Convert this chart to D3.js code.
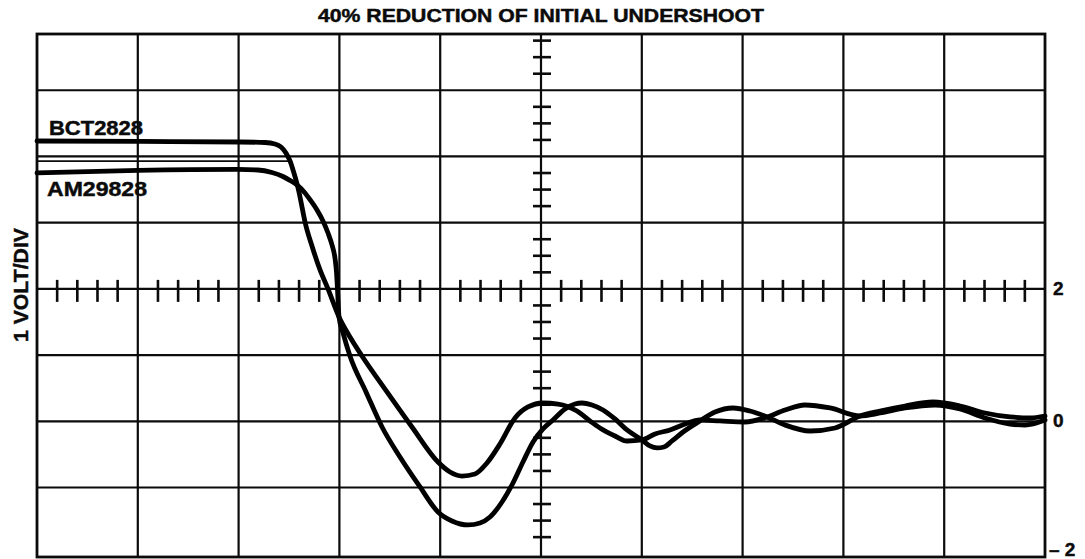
<!DOCTYPE html>
<html>
<head>
<meta charset="utf-8">
<script src="https://cdn.jsdelivr.net/npm/d3@7"></script>
<style>
  html, body { margin: 0; padding: 0; background: #fff; }
  svg { display: block; font-family: "Liberation Sans", Arial, Helvetica, sans-serif; font-weight: bold; }
  svg text { stroke: #0b0b0b; stroke-width: 0.45px; }
</style>
</head>
<body>
<svg id="chart" width="1085" height="559"></svg>
<script>
// ---- text ----
const titleText = "40% REDUCTION OF INITIAL UNDERSHOOT";
const yAxisLabel = "1 VOLT/DIV";
const seriesNames = ["BCT2828", "AM29828"];
const voltTickValues = [2, 0, -2];
const voltTickLabels = ["2", "0", "– 2"];

// ---- traces: time in horizontal divisions, amplitude in volts ----
const bctTime = [0, 1.022, 2.014, 2.262, 2.361, 2.421, 2.470, 2.510, 2.540, 2.569, 2.599, 2.629, 2.659,
  2.728, 2.808, 2.887, 2.996, 3.105, 3.224, 3.472, 3.720, 3.978, 4.097, 4.216, 4.345, 4.464, 4.593,
  4.742, 4.871, 5.020, 5.169, 5.357, 5.486, 5.585, 5.734, 5.853, 6.002, 6.131, 6.280, 6.429, 6.577,
  6.776, 7.024, 7.242, 7.421, 7.619, 7.867, 8.165, 8.363, 8.611, 8.909, 9.157, 9.405, 9.653, 9.802, 10];
const bctVolts = [4.234, 4.227, 4.219, 4.211, 4.189, 4.143, 4.053, 3.932, 3.796, 3.645, 3.464, 3.237, 3.011,
  2.648, 2.286, 1.999, 1.576, 1.273, 0.986, 0.444, -0.086, -0.615, -0.766, -0.827, -0.796, -0.630, -0.343,
  0.050, 0.216, 0.276, 0.261, 0.155, 0.005, -0.101, -0.222, -0.298, -0.282, -0.192, -0.131, -0.041, 0.020,
  0.005, -0.011, 0.065, 0.171, 0.246, 0.201, 0.080, 0.125, 0.201, 0.246, 0.186, 0.050, -0.041, -0.056, 0.020];

const amTime = [0, 1.002, 1.994, 2.192, 2.331, 2.440, 2.520, 2.579, 2.659, 2.718, 2.778, 2.837, 2.887,
  2.927, 2.956, 2.971, 2.981, 2.996, 3.036, 3.105, 3.264, 3.423, 3.601, 3.800, 3.978, 4.117, 4.276,
  4.395, 4.494, 4.613, 4.722, 4.821, 4.921, 5.020, 5.119, 5.238, 5.337, 5.407, 5.506, 5.615, 5.734,
  5.853, 6.002, 6.081, 6.151, 6.220, 6.300, 6.409, 6.577, 6.726, 6.905, 7.073, 7.242, 7.421, 7.669,
  7.917, 8.165, 8.363, 8.611, 8.889, 9.157, 9.405, 9.653, 9.851, 10];
const amVolts = [3.751, 3.789, 3.804, 3.796, 3.758, 3.698, 3.630, 3.570, 3.449, 3.328, 3.192, 3.026, 2.844,
  2.663, 2.467, 2.256, 1.999, 1.576, 1.334, 0.986, 0.444, -0.086, -0.539, -0.992, -1.370, -1.506, -1.566,
  -1.536, -1.446, -1.219, -0.932, -0.615, -0.312, -0.116, 0.020, 0.186, 0.261, 0.276, 0.246, 0.171, 0.035,
  -0.131, -0.282, -0.373, -0.403, -0.388, -0.297, -0.162, 0.005, 0.140, 0.201, 0.155, 0.065, -0.056, -0.147,
  -0.101, 0.080, 0.155, 0.231, 0.292, 0.231, 0.125, 0.065, 0.050, 0.080];

// faint baseline trace visible on the left of the screen
const refTime = [0, 2.51];
const refVolts = [3.93, 3.93];

// ---- layout ----
const svg = d3.select("#chart");
const x = d3.scaleLinear().domain([0, 10]).range([37, 1045]);
const y = d3.scaleLinear().domain([-2.05, 5.85]).range([557, 34]);
const ink = "#0b0b0b";

// graticule
const grid = svg.append("g").attr("stroke", ink).attr("stroke-width", 2.2);
grid.selectAll("line.v").data(d3.range(1, 10)).join("line")
  .attr("class", "v")
  .attr("x1", d => x(d)).attr("x2", d => x(d))
  .attr("y1", y(5.85)).attr("y2", y(-2.05));
grid.selectAll("line.h").data(d3.range(-1, 6)).join("line")
  .attr("class", "h")
  .attr("x1", x(0)).attr("x2", x(10))
  .attr("y1", d => y(d)).attr("y2", d => y(d));
svg.append("rect")
  .attr("x", x(0)).attr("y", y(5.85))
  .attr("width", x(10) - x(0)).attr("height", y(-2.05) - y(5.85))
  .attr("fill", "none").attr("stroke", ink).attr("stroke-width", 2.8);

// minor ticks on the centre horizontal axis (fifths of a division)
const hTicks = [];
d3.range(0, 10).forEach(i => d3.range(1, 5).forEach(k => hTicks.push(i + k / 5)));
grid.selectAll("line.ht").data(hTicks).join("line")
  .attr("class", "ht").attr("stroke-width", 2.6)
  .attr("x1", d => x(d)).attr("x2", d => x(d))
  .attr("y1", y(2) - 9).attr("y2", y(2) + 13);

// minor ticks on the centre vertical axis (quarters of a division)
const vTicks = [];
d3.range(-2, 6).forEach(j => d3.range(1, 4).forEach(k => { const v = j + k / 4; if (v < 5.85) vTicks.push(v); }));
grid.selectAll("line.vt").data(vTicks).join("line")
  .attr("class", "vt").attr("stroke-width", 2.6)
  .attr("x1", x(5) - 8).attr("x2", x(5) + 10)
  .attr("y1", d => y(d)).attr("y2", d => y(d));

// traces
const line = d3.line().x(d => x(d.t)).y(d => y(d.v)).curve(d3.curveMonotoneX);
const zipSeries = (ts, vs) => ts.map((t, i) => ({ t, v: vs[i] }));

svg.append("path")
  .datum(zipSeries(refTime, refVolts))
  .attr("d", line).attr("fill", "none").attr("stroke", ink).attr("stroke-width", 1.8);

[zipSeries(bctTime, bctVolts), zipSeries(amTime, amVolts)].forEach(s => {
  svg.append("path")
    .datum(s)
    .attr("d", line)
    .attr("fill", "none")
    .attr("stroke", "#000")
    .attr("stroke-width", 4.8)
    .attr("stroke-linejoin", "round")
    .attr("stroke-linecap", "round");
});

// labels
svg.append("text")
  .attr("x", 541).attr("y", 22)
  .attr("text-anchor", "middle").attr("font-size", 17.5)
  .attr("textLength", 446).attr("lengthAdjust", "spacingAndGlyphs")
  .attr("fill", ink).text(titleText);

svg.append("text")
  .attr("x", 49).attr("y", 135)
  .attr("font-size", 19.5).attr("textLength", 94).attr("lengthAdjust", "spacingAndGlyphs")
  .attr("fill", ink).text(seriesNames[0]);
svg.append("text")
  .attr("x", 47).attr("y", 196)
  .attr("font-size", 19.5).attr("textLength", 100).attr("lengthAdjust", "spacingAndGlyphs")
  .attr("fill", ink).text(seriesNames[1]);

svg.append("text")
  .attr("transform", "translate(28,285) rotate(-90)")
  .attr("text-anchor", "middle").attr("font-size", 20)
  .attr("textLength", 114).attr("lengthAdjust", "spacingAndGlyphs")
  .attr("fill", ink).text(yAxisLabel);

svg.selectAll("text.vl").data(voltTickValues).join("text")
  .attr("class", "vl")
  .attr("x", d => d < 0 ? 1049 : 1053)
  .attr("y", d => Math.min(y(d) + 6, 556))
  .attr("font-size", 19)
  .attr("fill", ink)
  .text((d, i) => voltTickLabels[i]);
</script>
</body>
</html>
